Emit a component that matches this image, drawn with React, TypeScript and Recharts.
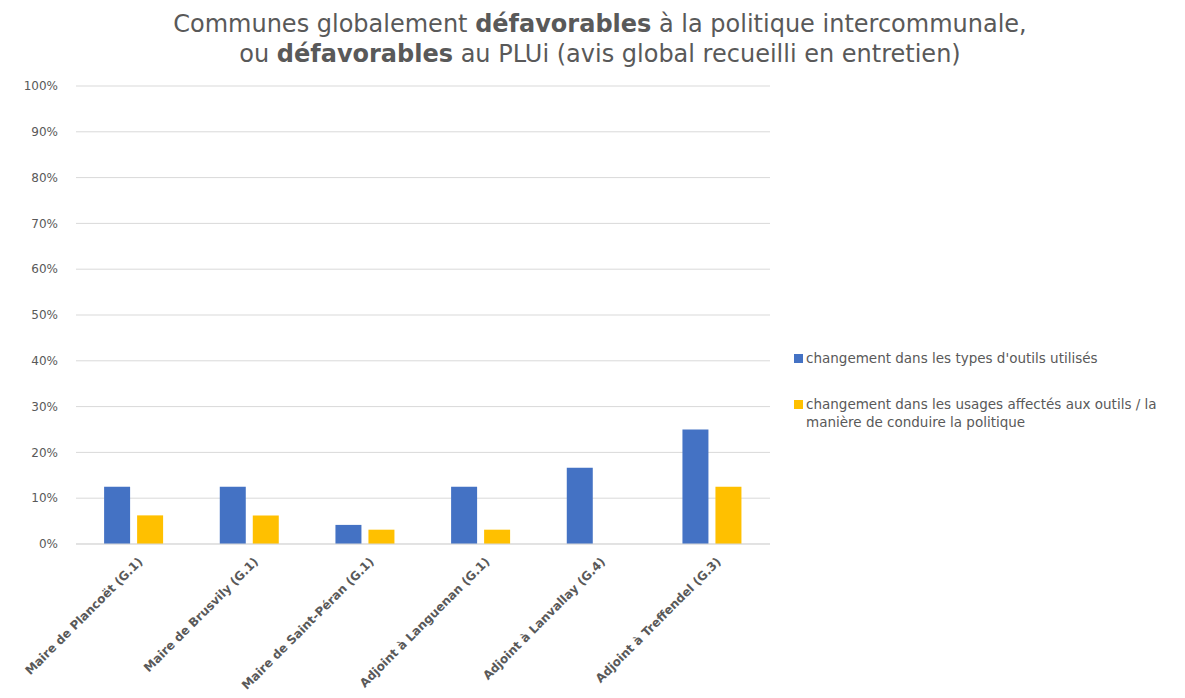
import React from 'react';
import { BarChart, Bar, XAxis, YAxis, CartesianGrid } from 'recharts';

const categories = [
  'Maire de Plancoët (G.1)',
  'Maire de Brusvily (G.1)',
  'Maire de Saint-Péran (G.1)',
  'Adjoint à Languenan (G.1)',
  'Adjoint à Lanvallay (G.4)',
  'Adjoint à Treffendel (G.3)',
];
const typesOutils = [0.125, 0.125, 0.0417, 0.125, 0.1667, 0.25];
const usagesOutils = [0.0625, 0.0625, 0.03125, 0.03125, 0, 0.125];
const yTicks = [0, 0.1, 0.2, 0.3, 0.4, 0.5, 0.6, 0.7, 0.8, 0.9, 1];
const seriesNames = [
  "changement dans les types d'outils utilisés",
  'changement dans les usages affectés aux outils / la manière de conduire la politique',
];
const colors = ['#4472C4', '#FFC000'];

const data = categories.map((c, i) => ({ name: c, a: typesOutils[i], b: usagesOutils[i] }));

const FONT = "'DejaVu Sans', sans-serif";
const GREY = '#595959';

const XTick = (props: any) => {
  const { x, y, payload } = props;
  return (
    <g transform={`translate(${x + 7},${y + 8})`}>
      <text
        transform="rotate(-45)"
        textAnchor="end"
        dominantBaseline="middle"
        fontFamily={FONT}
        fontSize={12}
        fontWeight="bold"
        fill={GREY}
      >
        {payload.value}
      </text>
    </g>
  );
};

export default function App() {
  return (
    <div style={{ position: 'absolute', left: 0, top: 0, width: 1185, height: 698, background: '#fff', overflow: 'hidden' }}>
      <div
        style={{
          position: 'absolute',
          top: 9,
          left: 0,
          width: 1200,
          textAlign: 'center',
          fontFamily: FONT,
          fontSize: 24,
          color: GREY,
          lineHeight: '30px',
        }}
      >
        <div>
          Communes globalement <b>défavorables</b> à la politique intercommunale,
        </div>
        <div>
          ou <b>défavorables</b> au PLUi (avis global recueilli en entretien)
        </div>
      </div>
      <div
        style={{
          position: 'absolute',
          top: 349,
          left: 794,
          width: 385,
          fontFamily: FONT,
          fontSize: 13.5,
          color: GREY,
          lineHeight: '18px',
        }}
      >
        {seriesNames.map((n, i) => (
          <div key={i} style={{ display: 'flex', alignItems: 'flex-start', marginBottom: 28 }}>
            <span
              style={{
                display: 'inline-block',
                width: 9,
                height: 9,
                background: colors[i],
                marginTop: 5,
                marginRight: 3,
                flex: '0 0 auto',
              }}
            />
            <span>{n}</span>
          </div>
        ))}
      </div>
      <BarChart
        width={1185}
        height={698}
        data={data}
        margin={{ top: 86, right: 415, bottom: 0, left: 0 }}
        barCategoryGap="24.3%"
        barGap={7}
      >
        <CartesianGrid vertical={false} stroke="#d9d9d9" strokeWidth={1} />
        <XAxis
          dataKey="name"
          interval={0}
          tick={<XTick />}
          tickLine={false}
          axisLine={{ stroke: '#d9d9d9' }}
          height={154}
        />
        <YAxis
          width={76}
          domain={[0, 1]}
          ticks={yTicks}
          tickFormatter={(v: number) => `${Math.round(v * 100)}%`}
          tick={{ fontFamily: FONT, fontSize: 12, fill: GREY }}
          axisLine={false}
          tickLine={false}
          tickMargin={12}
        />
        <Bar dataKey="a" name={seriesNames[0]} fill={colors[0]} isAnimationActive={false} />
        <Bar dataKey="b" name={seriesNames[1]} fill={colors[1]} isAnimationActive={false} />
      </BarChart>
    </div>
  );
}
